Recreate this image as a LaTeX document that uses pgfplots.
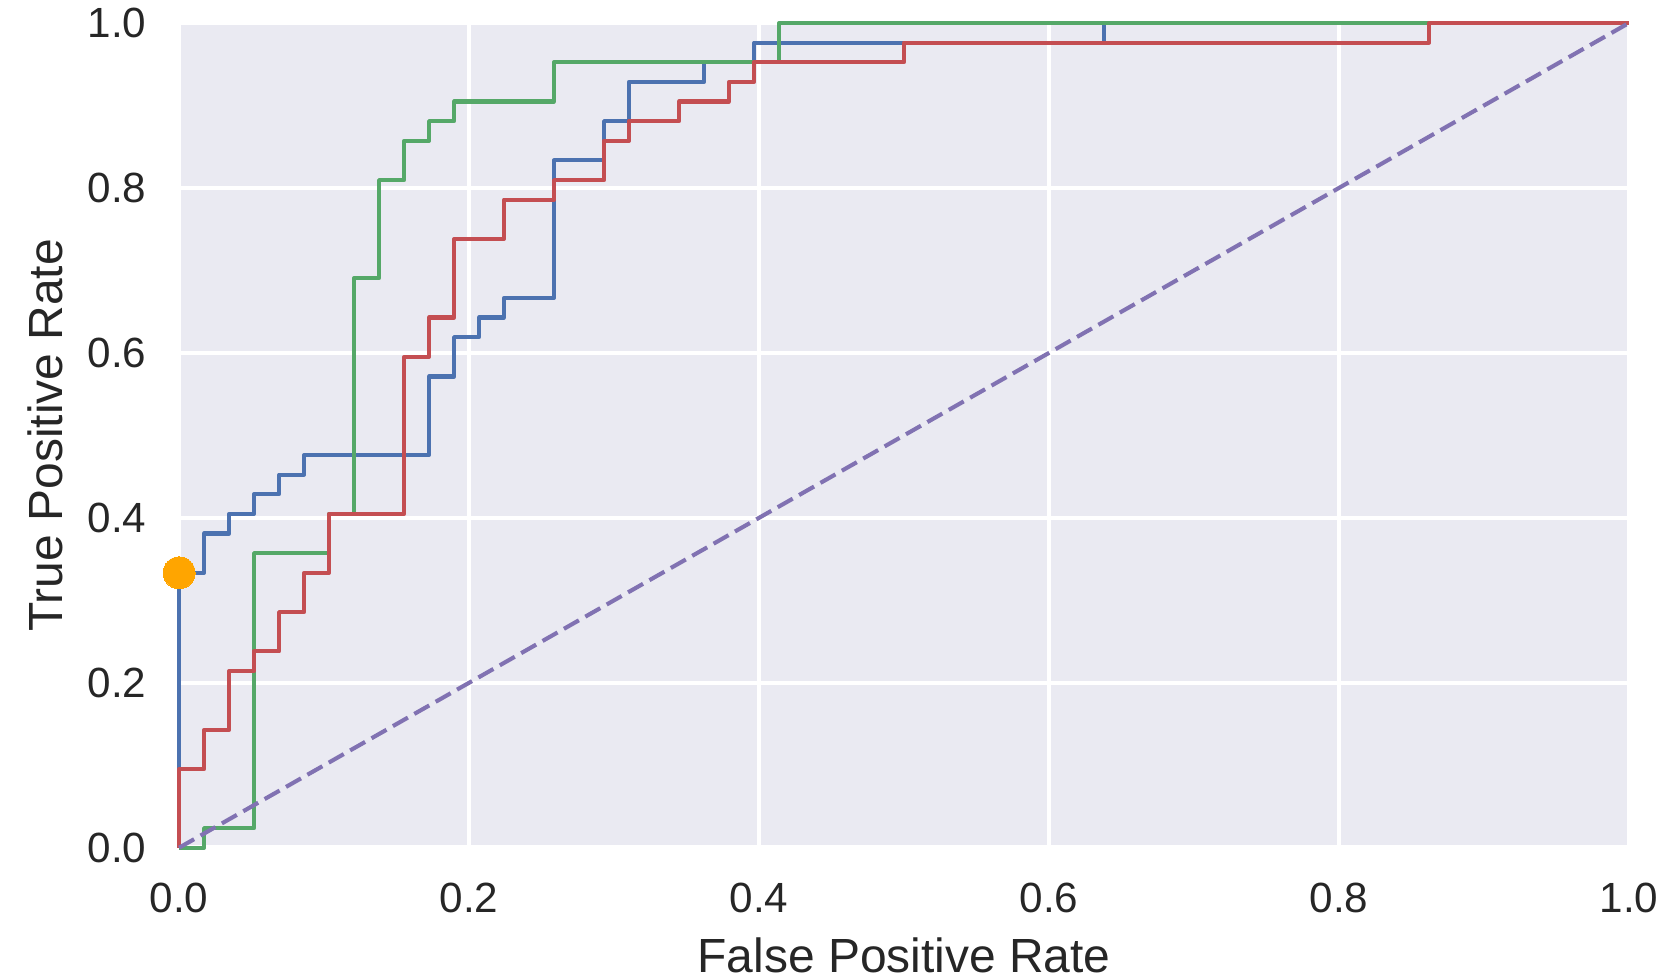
\documentclass[border=0pt]{standalone}
\usepackage{pgfplots}
\pgfplotsset{compat=1.18}
\usepackage{fontspec}
\setmainfont{Liberation Sans}

\definecolor{sbblue}{HTML}{4C72B0}
\definecolor{sbgreen}{HTML}{55A868}
\definecolor{sbred}{HTML}{C44E52}
\definecolor{sbpurple}{HTML}{8172B2}
\definecolor{sbbg}{HTML}{EAEAF2}
\definecolor{txt}{HTML}{262626}
\definecolor{dotorange}{HTML}{FFA500}

\begin{document}
\begin{tikzpicture}
\begin{axis}[
  name=roc,
  scale only axis,
  width=353.7pt, height=201.2pt,
  xmin=0, xmax=1, ymin=0, ymax=1,
  clip=false,
  axis background/.style={fill=sbbg},
  axis line style={draw=none},
  major tick length=0pt,
  grid=major,
  major grid style={white, line width=1.1pt},
  xtick={0,0.2,0.4,0.6,0.8,1},
  ytick={0,0.2,0.4,0.6,0.8,1},
  xticklabels={0.0,0.2,0.4,0.6,0.8,1.0},
  yticklabels={0.0,0.2,0.4,0.6,0.8,1.0},
  tick label style={font=\fontsize{10.3}{12}\selectfont, text=txt, inner sep=0pt},
  xticklabel style={yshift=-8.3pt},
  yticklabel style={xshift=-7.8pt},
  xlabel={False Positive Rate},
  ylabel={True Positive Rate},
  every axis x label/.style={at={([yshift=-30.5pt]rel axis cs:0.5,0)}, anchor=base,
    font=\fontsize{11.7}{14}\selectfont, text=txt, inner sep=0pt},
  every axis y label/.style={at={([xshift=-28.5pt]rel axis cs:0,0.5)}, rotate=90, anchor=base,
    font=\fontsize{11.7}{14}\selectfont, text=txt, inner sep=0pt},
  every axis plot/.append style={line width=1pt, line join=round},
]
% model 1
\addplot[sbblue] coordinates {
  (0,0) (0,0.3333) (0.0172,0.3333) (0.0172,0.3810) (0.0345,0.3810) (0.0345,0.4048)
  (0.0517,0.4048) (0.0517,0.4286) (0.0690,0.4286) (0.0690,0.4524) (0.0862,0.4524)
  (0.0862,0.4762) (0.1724,0.4762) (0.1724,0.5714) (0.1897,0.5714) (0.1897,0.6190)
  (0.2069,0.6190) (0.2069,0.6429) (0.2241,0.6429) (0.2241,0.6667) (0.2586,0.6667)
  (0.2586,0.8333) (0.2931,0.8333) (0.2931,0.8810) (0.3103,0.8810) (0.3103,0.9286)
  (0.3621,0.9286) (0.3621,0.9524) (0.3966,0.9524) (0.3966,0.9762) (0.6379,0.9762)
  (0.6379,1) (1,1)
};
% model 2
\addplot[sbgreen] coordinates {
  (0,0) (0.0172,0) (0.0172,0.0238) (0.0517,0.0238) (0.0517,0.3571) (0.1034,0.3571)
  (0.1034,0.4048) (0.1207,0.4048) (0.1207,0.6905) (0.1379,0.6905) (0.1379,0.8095)
  (0.1552,0.8095) (0.1552,0.8571) (0.1724,0.8571) (0.1724,0.8810) (0.1897,0.8810)
  (0.1897,0.9048) (0.2586,0.9048) (0.2586,0.9524) (0.4138,0.9524) (0.4138,1) (1,1)
};
% model 3
\addplot[sbred] coordinates {
  (0,0) (0,0.0952) (0.0172,0.0952) (0.0172,0.1429) (0.0345,0.1429) (0.0345,0.2143)
  (0.0517,0.2143) (0.0517,0.2381) (0.0690,0.2381) (0.0690,0.2857) (0.0862,0.2857)
  (0.0862,0.3333) (0.1034,0.3333) (0.1034,0.4048) (0.1552,0.4048) (0.1552,0.5952)
  (0.1724,0.5952) (0.1724,0.6429) (0.1897,0.6429) (0.1897,0.7381) (0.2241,0.7381)
  (0.2241,0.7857) (0.2586,0.7857) (0.2586,0.8095) (0.2931,0.8095) (0.2931,0.8571)
  (0.3103,0.8571) (0.3103,0.8810) (0.3448,0.8810) (0.3448,0.9048) (0.3793,0.9048)
  (0.3793,0.9286) (0.3966,0.9286) (0.3966,0.9524) (0.5,0.9524) (0.5,0.9762)
  (0.8621,0.9762) (0.8621,1) (1,1)
};
% chance line
\addplot[sbpurple, dash pattern=on 4.2pt off 1.8pt] coordinates {(0,0) (1,1)};
% chosen threshold
\addplot[dotorange, only marks, mark=*, mark size=3.9pt,
  mark options={draw=dotorange, fill=dotorange, line width=0pt}] coordinates {(0,0.3333)};
\end{axis}
\pgfresetboundingbox
\path[use as bounding box] ([shift={(-43.7pt,-32.2pt)}]roc.south west)
  rectangle ([shift={(10pt,5.6pt)}]roc.north east);
\end{tikzpicture}
\end{document}
